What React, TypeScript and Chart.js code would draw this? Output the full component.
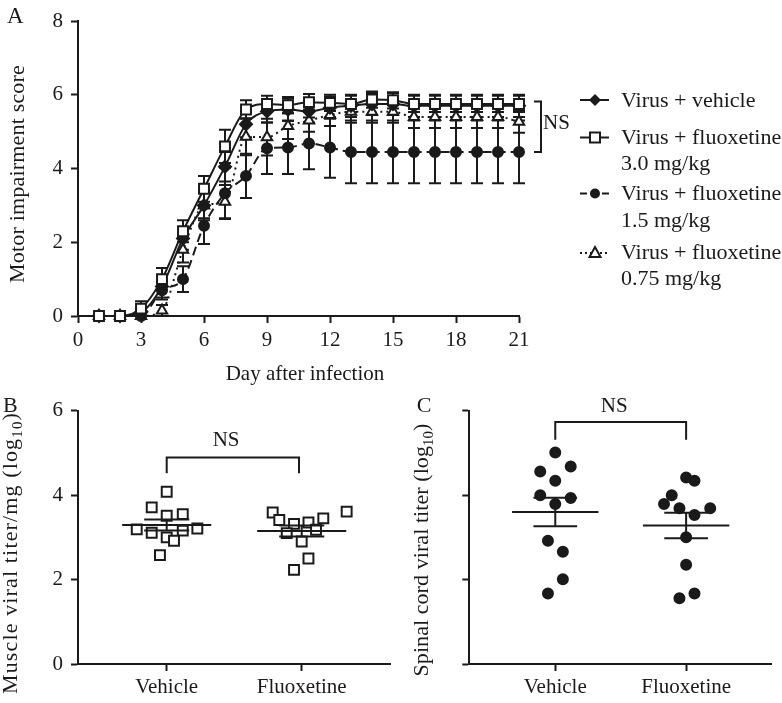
import React, { useEffect, useRef } from 'react';
import { Chart, registerables } from 'chart.js';

Chart.register(...registerables);

const FONT = "'Liberation Serif', 'Times New Roman', Times, serif";
const INK = '#1a1a1a';

// ---------- Panel A data ----------
const days = [1, 2, 3, 4, 5, 6, 7, 8, 9, 10, 11, 12, 13, 14, 15, 16, 17, 18, 19, 20, 21];
const dayTicks = [0, 3, 6, 9, 12, 15, 18, 21];
const scoreTicks = [0, 2, 4, 6, 8];
const seriesNames = ['Virus + vehicle', 'Virus + fluoxetine', 'Virus + fluoxetine', 'Virus + fluoxetine'];
const seriesDoses = ['', '3.0 mg/kg', '1.5 mg/kg', '0.75 mg/kg'];

const vehicleScore = [0, 0, 0.1, 0.8, 2.1, 3.0, 4.05, 5.2, 5.55, 5.6, 5.55, 5.65, 5.7, 5.75, 5.75, 5.7, 5.7, 5.7, 5.7, 5.7, 5.7];
const vehicleSE = [0, 0, 0.1, 0.3, 0.3, 0.35, 0.4, 0.35, 0.3, 0.3, 0.3, 0.3, 0.3, 0.3, 0.3, 0.3, 0.3, 0.3, 0.3, 0.3, 0.3];
const fluox30Score = [0, 0, 0.2, 1.0, 2.3, 3.45, 4.6, 5.6, 5.75, 5.72, 5.8, 5.78, 5.75, 5.87, 5.85, 5.75, 5.75, 5.75, 5.75, 5.75, 5.75];
const fluox30SE = [0, 0, 0.2, 0.3, 0.3, 0.35, 0.45, 0.25, 0.22, 0.22, 0.22, 0.22, 0.22, 0.22, 0.22, 0.22, 0.22, 0.22, 0.22, 0.22, 0.22];
const fluox15Score = [0, 0, 0, 0.7, 1.0, 2.45, 3.33, 3.8, 4.55, 4.57, 4.68, 4.57, 4.45, 4.45, 4.45, 4.45, 4.45, 4.45, 4.45, 4.45, 4.45];
const fluox15SE = [0, 0, 0, 0.25, 0.35, 0.5, 0.7, 0.6, 0.7, 0.72, 0.7, 0.82, 0.85, 0.85, 0.85, 0.85, 0.85, 0.85, 0.85, 0.85, 0.85];
const fluox075Score = [0, 0, 0, 0.15, 1.8, 3.0, 3.1, 4.86, 4.85, 5.15, 5.3, 5.45, 5.54, 5.54, 5.54, 5.4, 5.4, 5.4, 5.4, 5.4, 5.27];
const fluox075SE = [0, 0, 0, 0.15, 0.35, 0.4, 0.45, 0.5, 0.5, 0.35, 0.3, 0.3, 0.3, 0.3, 0.3, 0.3, 0.3, 0.3, 0.3, 0.3, 0.3];

// ---------- Panels B / C data ----------
const groups = ['Vehicle', 'Fluoxetine'];
const titerTicks = [0, 2, 4, 6];

const muscleVehicle = [4.08, 3.71, 3.51, 3.55, 3.19, 3.11, 3.16, 3.21, 3.0, 2.92, 2.58];
const muscleVehicleJitter = [0, -0.111, 0, 0.119, -0.222, -0.111, 0.119, 0.227, 0, 0.054, -0.05];
const muscleFluox = [3.59, 3.61, 3.41, 3.45, 3.32, 3.35, 3.1, 3.18, 2.9, 2.5, 2.23];
const muscleFluoxJitter = [-0.215, 0.333, -0.166, 0.16, -0.057, 0.05, -0.111, 0.106, 0, 0.05, -0.057];
const muscleMean = [3.29, 3.15];
const muscleSEM = [0.13, 0.13];

const spinalVehicle = [5.01, 4.56, 4.68, 4.34, 4.0, 3.93, 3.79, 2.92, 2.66, 2.01, 1.67];
const spinalVehicleJitter = [0, -0.115, 0.118, 0, -0.115, 0.118, 0, -0.056, 0.058, 0.058, -0.056];
const spinalFluox = [4.42, 4.34, 4.0, 3.79, 3.69, 3.69, 3.53, 3.0, 2.35, 1.67, 1.56];
const spinalFluoxJitter = [0, 0.064, -0.11, -0.169, -0.051, 0.184, 0.064, 0, 0, 0.064, -0.051];
const spinalMean = [3.6, 3.28];
const spinalSEM = [0.34, 0.3];

// ---------- helpers ----------
type Part = { t: string; size: number; dy?: number };

function drawRich(ctx: CanvasRenderingContext2D, parts: Part[], x: number, y: number, rotate: boolean, align: 'center' | 'left', fit?: number) {
  ctx.save();
  ctx.translate(x, y);
  if (rotate) ctx.rotate(-Math.PI / 2);
  let total = 0;
  let chars = 0;
  const widths = parts.map((p) => {
    ctx.font = `${p.size}px ${FONT}`;
    const w = ctx.measureText(p.t).width;
    total += w;
    chars += p.t.length;
    return w;
  });
  const spacing = fit ? (fit - total) / chars : 0;
  const fullW = total + spacing * chars;
  let cx = align === 'center' ? -fullW / 2 : 0;
  ctx.fillStyle = INK;
  ctx.textBaseline = 'alphabetic';
  ctx.textAlign = 'left';
  parts.forEach((p, i) => {
    ctx.font = `${p.size}px ${FONT}`;
    if (spacing) (ctx as any).letterSpacing = `${spacing}px`;
    ctx.fillText(p.t, cx, p.dy || 0);
    cx += widths[i] + spacing * p.t.length;
  });
  ctx.restore();
}

function drawMarker(ctx: CanvasRenderingContext2D, style: string, x: number, y: number) {
  ctx.save();
  ctx.setLineDash([]);
  ctx.lineWidth = 2;
  ctx.strokeStyle = INK;
  ctx.fillStyle = INK;
  ctx.beginPath();
  if (style === 'diamond') {
    ctx.moveTo(x, y - 6); ctx.lineTo(x + 6, y); ctx.lineTo(x, y + 6); ctx.lineTo(x - 6, y); ctx.closePath();
    ctx.fill();
  } else if (style === 'square') {
    ctx.fillStyle = '#fff';
    ctx.rect(x - 5, y - 5, 10, 10);
    ctx.fill(); ctx.stroke();
  } else if (style === 'circle') {
    ctx.arc(x, y, 5, 0, Math.PI * 2);
    ctx.fill();
  } else {
    ctx.fillStyle = '#fff';
    ctx.moveTo(x, y - 6); ctx.lineTo(x + 5.5, y + 4); ctx.lineTo(x - 5.5, y + 4); ctx.closePath();
    ctx.fill(); ctx.stroke();
  }
  ctx.restore();
}

const tickFont = { family: FONT, size: 21 };

const axisCommon = {
  grid: { drawOnChartArea: false, drawTicks: true, tickLength: 7, tickWidth: 2, tickColor: INK },
  border: { display: true, color: INK, width: 2 },
};

// ---------- Panel A plugins ----------
const errorBarPlugin = {
  id: 'errorBars',
  beforeDatasetsDraw(chart: any) {
    const { ctx, scales } = chart;
    const xs = scales.x;
    const ys = scales.y;
    ctx.save();
    ctx.strokeStyle = INK;
    ctx.lineWidth = 2;
    ctx.setLineDash([]);
    chart.data.datasets.forEach((ds: any) => {
      const errs: number[] = ds.errors;
      ds.data.forEach((pt: any, j: number) => {
        const e = errs[j];
        if (!e) return;
        const px = xs.getPixelForValue(pt.x);
        const top = ys.getPixelForValue(pt.y + e);
        const bot = ys.getPixelForValue(pt.y - e);
        ctx.beginPath();
        ctx.moveTo(px, top); ctx.lineTo(px, bot);
        ctx.moveTo(px - 6, top); ctx.lineTo(px + 6, top);
        ctx.moveTo(px - 6, bot); ctx.lineTo(px + 6, bot);
        ctx.stroke();
      });
    });
    ctx.restore();
  },
};

const legendStyles = [
  { marker: 'diamond', dash: [] as number[] },
  { marker: 'square', dash: [] as number[] },
  { marker: 'circle', dash: [7, 4] },
  { marker: 'triangle', dash: [2, 3] },
];
const legendRows = [
  { my: 100, base: [106.7] },
  { my: 137.5, base: [144, 170] },
  { my: 193.5, base: [200, 226.7] },
  { my: 253, base: [259.3, 285] },
];

const panelAPlugin = {
  id: 'panelA',
  afterDraw(chart: any) {
    const { ctx, scales } = chart;
    const xs = scales.x;
    const ys = scales.y;
    // legend
    legendRows.forEach((row, i) => {
      const st = legendStyles[i];
      ctx.save();
      ctx.strokeStyle = INK;
      ctx.lineWidth = 2;
      ctx.setLineDash(st.dash);
      ctx.beginPath();
      ctx.moveTo(580, row.my); ctx.lineTo(609, row.my);
      ctx.stroke();
      ctx.restore();
      drawMarker(ctx, st.marker, 595, row.my);
      drawRich(ctx, [{ t: seriesNames[i], size: 22 }], 621, row.base[0], false, 'left');
      if (seriesDoses[i]) drawRich(ctx, [{ t: seriesDoses[i], size: 22 }], 621, row.base[1], false, 'left');
    });
    // NS bracket
    const bx = xs.getPixelForValue(21) + 22;
    const bTop = ys.getPixelForValue(fluox30Score[20] + 0.07);
    const bBot = ys.getPixelForValue(fluox15Score[20]);
    ctx.save();
    ctx.strokeStyle = INK;
    ctx.lineWidth = 2;
    ctx.beginPath();
    ctx.moveTo(bx - 7, bTop); ctx.lineTo(bx, bTop); ctx.lineTo(bx, bBot); ctx.lineTo(bx - 7, bBot);
    ctx.stroke();
    ctx.restore();
    drawRich(ctx, [{ t: 'NS', size: 21 }], bx + 2, (bTop + bBot) / 2 + 2.5, false, 'left');
    // titles
    drawRich(ctx, [{ t: 'Motor impairment score', size: 22 }], 24, 174, true, 'center', 218);
    drawRich(ctx, [{ t: 'Day after infection', size: 21 }], 305, 379.7, false, 'center');
    drawRich(ctx, [{ t: 'A', size: 23 }], 7, 23.3, false, 'left');
  },
};

// ---------- Panels B / C plugin ----------
function makeDotPlugin(cfg: any) {
  return {
    id: 'dotPlot' + cfg.label,
    afterDatasetsDraw(chart: any) {
      const { ctx, scales } = chart;
      const xs = scales.x;
      const ys = scales.y;
      ctx.save();
      ctx.strokeStyle = INK;
      ctx.lineWidth = 2;
      ctx.setLineDash([]);
      cfg.means.forEach((m: number, i: number) => {
        const s = cfg.sems[i];
        const cx = xs.getPixelForValue(i);
        const l = xs.getPixelForValue(i - 0.33);
        const r = xs.getPixelForValue(i + 0.33);
        const cl = xs.getPixelForValue(i - 0.167);
        const cr = xs.getPixelForValue(i + 0.167);
        const ym = ys.getPixelForValue(m);
        const yt = ys.getPixelForValue(m + s);
        const yb = ys.getPixelForValue(m - s);
        ctx.beginPath();
        ctx.moveTo(l, ym); ctx.lineTo(r, ym);
        ctx.moveTo(cx, yt); ctx.lineTo(cx, yb);
        ctx.moveTo(cl, yt); ctx.lineTo(cr, yt);
        ctx.moveTo(cl, yb); ctx.lineTo(cr, yb);
        ctx.stroke();
      });
      // bracket
      const x0 = xs.getPixelForValue(0);
      const x1 = xs.getPixelForValue(cfg.bracketRight);
      const yh = ys.getPixelForValue(cfg.bracketY);
      const yd = ys.getPixelForValue(cfg.bracketDrop);
      ctx.beginPath();
      ctx.moveTo(x0, yd); ctx.lineTo(x0, yh); ctx.lineTo(x1, yh); ctx.lineTo(x1, yd);
      ctx.stroke();
      ctx.restore();
      drawRich(ctx, [{ t: 'NS', size: 21 }], xs.getPixelForValue(cfg.nsX), cfg.nsBase, false, 'center');
      drawRich(ctx, cfg.title, cfg.titleX, cfg.titleY, true, 'center', cfg.titleSpan);
      drawRich(ctx, [{ t: cfg.label, size: 22 }], cfg.labelX, 21.7, false, 'left');
    },
  };
}

function dotChartConfig(vals: number[][], jitters: number[][], pointStyle: string, showYLabels: boolean, yWidth: number, padRight: number, plugin: any) {
  const isSquare = pointStyle === 'rect';
  return {
    type: 'scatter' as const,
    data: {
      datasets: vals.map((v, g) => ({
        data: v.map((y, k) => ({ x: g + jitters[g][k], y })),
        pointStyle,
        pointRadius: isSquare ? 7 : 5,
        pointBorderWidth: 2,
        pointBorderColor: INK,
        pointBackgroundColor: isSquare ? '#fff' : INK,
        showLine: false,
        clip: false,
      })),
    },
    options: {
      responsive: false,
      animation: false as const,
      events: [] as any[],
      layout: { padding: { left: 0, top: 20.7, right: padRight, bottom: 0 } },
      plugins: { legend: { display: false }, tooltip: { enabled: false } },
      scales: {
        x: {
          type: 'linear' as const,
          min: -0.657,
          max: 1.654,
          afterBuildTicks: (s: any) => { s.ticks = groups.map((_, i) => ({ value: i })); },
          afterFit: (s: any) => { s.height = 39; },
          ticks: { font: tickFont, color: INK, padding: 4, maxRotation: 0, autoSkip: false, callback: (v: any) => groups[v] ?? '' },
          ...axisCommon,
        },
        y: {
          type: 'linear' as const,
          min: 0,
          max: 6,
          afterBuildTicks: (s: any) => { s.ticks = titerTicks.map((v) => ({ value: v })); },
          afterFit: (s: any) => { s.width = yWidth; },
          ticks: { font: tickFont, color: INK, padding: 8, callback: (v: any) => (showYLabels ? String(v) : '') },
          ...axisCommon,
        },
      },
    },
    plugins: [plugin],
  };
}

export default function App() {
  const refA = useRef<HTMLCanvasElement>(null);
  const refB = useRef<HTMLCanvasElement>(null);
  const refC = useRef<HTMLCanvasElement>(null);

  useEffect(() => {
    const mk = (label: string, values: number[], se: number[], extra: any) => ({
      label,
      data: days.map((d, i) => ({ x: d, y: values[i] })),
      errors: se,
      borderColor: INK,
      backgroundColor: INK,
      borderWidth: 2,
      pointBorderColor: INK,
      pointBorderWidth: 2,
      cubicInterpolationMode: 'monotone',
      clip: false,
      ...extra,
    });

    const chartA = new Chart(refA.current!, {
      type: 'line',
      data: {
        datasets: [
          mk('3.0', fluox30Score, fluox30SE, { pointStyle: 'rect', pointRadius: 7, pointBackgroundColor: '#fff' }),
          mk('vehicle', vehicleScore, vehicleSE, { pointStyle: 'rectRot', pointRadius: 6, pointBackgroundColor: INK }),
          mk('1.5', fluox15Score, fluox15SE, { pointStyle: 'circle', pointRadius: 5, pointBackgroundColor: INK, borderDash: [9, 5] }),
          mk('0.75', fluox075Score, fluox075SE, { pointStyle: 'triangle', pointRadius: 6, pointBackgroundColor: '#fff', borderDash: [2, 4] }),
        ] as any,
      },
      options: {
        responsive: false,
        animation: false,
        events: [],
        layout: { padding: { left: 0, top: 21, right: 263, bottom: 0 } },
        plugins: { legend: { display: false }, tooltip: { enabled: false } },
        scales: {
          x: {
            type: 'linear',
            min: 0,
            max: 21,
            afterBuildTicks: (s: any) => { s.ticks = dayTicks.map((v) => ({ value: v })); },
            afterFit: (s: any) => { s.height = 74; },
            ticks: { font: tickFont, color: INK, padding: 5, maxRotation: 0, autoSkip: false },
            ...axisCommon,
          } as any,
          y: {
            type: 'linear',
            min: 0,
            max: 8,
            afterBuildTicks: (s: any) => { s.ticks = scoreTicks.map((v) => ({ value: v })); },
            afterFit: (s: any) => { s.width = 78; },
            ticks: { font: tickFont, color: INK, padding: 8 },
            ...axisCommon,
          } as any,
        },
      },
      plugins: [errorBarPlugin, panelAPlugin],
    } as any);

    const pluginB = makeDotPlugin({
      label: 'B',
      labelX: 3,
      means: muscleMean,
      sems: muscleSEM,
      bracketY: 4.89,
      bracketDrop: 4.52,
      bracketRight: 0.98,
      nsX: 0.44,
      nsBase: 56,
      title: [
        { t: 'Muscle viral titer/mg (log', size: 22 },
        { t: '10', size: 15, dy: 5 },
        { t: ')', size: 22 },
      ],
      titleX: 17,
      titleY: 163,
      titleSpan: 282,
    });
    const chartB = new Chart(
      refB.current!,
      dotChartConfig([muscleVehicle, muscleFluox], [muscleVehicleJitter, muscleFluoxJitter], 'rect', true, 78, 10, pluginB) as any,
    );

    const pluginC = makeDotPlugin({
      label: 'C',
      labelX: 16.7,
      means: spinalMean,
      sems: spinalSEM,
      bracketY: 5.73,
      bracketDrop: 5.31,
      bracketRight: 1,
      nsX: 0.45,
      nsBase: 21.7,
      title: [
        { t: 'Spinal cord viral titer (log', size: 22 },
        { t: '10', size: 15, dy: 5 },
        { t: ')', size: 22 },
      ],
      titleX: 28,
      titleY: 160,
      titleSpan: 253,
    });
    const chartC = new Chart(
      refC.current!,
      dotChartConfig([spinalVehicle, spinalFluox], [spinalVehicleJitter, spinalFluoxJitter], 'circle', false, 69.3, 10.3, pluginC) as any,
    );

    return () => {
      chartA.destroy();
      chartB.destroy();
      chartC.destroy();
    };
  }, []);

  return (
    <div style={{ position: 'absolute', left: 0, top: 0, width: 782, height: 703, background: '#fff', overflow: 'hidden' }}>
      <canvas ref={refA} width={782} height={390} style={{ position: 'absolute', left: 0, top: 0 }} />
      <canvas ref={refB} width={400} height={313} style={{ position: 'absolute', left: 0, top: 390 }} />
      <canvas ref={refC} width={382} height={313} style={{ position: 'absolute', left: 400, top: 390 }} />
    </div>
  );
}
